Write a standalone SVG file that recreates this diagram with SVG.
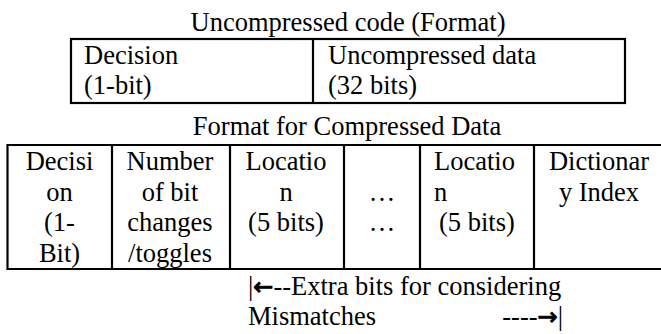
<svg xmlns="http://www.w3.org/2000/svg" width="661" height="334" viewBox="0 0 661 334">
<style>
  text { font-family: "Liberation Serif", "Times New Roman", serif; font-size: 26.5px; fill: #000; }
  .c { text-anchor: middle; }
  .e { text-anchor: end; }
  .ar { font-family: "DejaVu Sans", sans-serif; font-size: 24px; stroke: #000; stroke-width: 0.9; }
  .ln { stroke: #000; stroke-width: 2.2; fill: none; }
</style>
<rect width="661" height="334" fill="#fff"/>
<g id="uncompressed-title">
  <text class="c" x="348" y="31">Uncompressed code (Format)</text>
</g>
<g id="uncompressed-table">
  <rect class="ln" x="71" y="39" width="554" height="64"/>
  <line class="ln" x1="313" y1="39" x2="313" y2="103"/>
  <text x="84" y="64">Decision</text>
  <text x="84" y="94">(1-bit)</text>
  <text x="328" y="64">Uncompressed data</text>
  <text x="328" y="94">(32 bits)</text>
</g>
<g id="compressed-title">
  <text class="c" x="347" y="135">Format for Compressed Data</text>
</g>
<g id="compressed-table">
  <path class="ln" d="M663 145 H7.5 V269 H663"/>
  <line class="ln" x1="112" y1="145" x2="112" y2="269"/>
  <line class="ln" x1="230" y1="145" x2="230" y2="269"/>
  <line class="ln" x1="344" y1="145" x2="344" y2="269"/>
  <line class="ln" x1="420" y1="145" x2="420" y2="269"/>
  <line class="ln" x1="534" y1="145" x2="534" y2="269"/>
  <text class="c" x="59.5" y="170">Decisi</text>
  <text class="c" x="59.5" y="200.5">on</text>
  <text class="c" x="59.5" y="231">(1-</text>
  <text class="c" x="59.5" y="261.5">Bit)</text>
  <text class="c" x="170" y="170">Number</text>
  <text class="c" x="170" y="200.5">of bit</text>
  <text class="c" x="170" y="231">changes</text>
  <text class="c" x="170" y="261.5">/toggles</text>
  <text class="c" x="286" y="170">Locatio</text>
  <text class="c" x="286" y="200.5">n</text>
  <text class="c" x="286" y="231">(5 bits)</text>
  <text class="c" x="382" y="200.5">…</text>
  <text class="c" x="382" y="231">…</text>
  <text x="434" y="170">Locatio</text>
  <text x="434" y="200.5">n</text>
  <text x="439" y="231">(5 bits)</text>
  <text class="c" x="599" y="170">Dictionar</text>
  <text class="c" x="599" y="200.5">y Index</text>
</g>
<g id="mismatch-note">
  <text x="248" y="295">|<tspan class="ar">←</tspan>--Extra bits for considering</text>
  <text x="248" y="325">Mismatches</text>
  <text class="e" x="563" y="325">----<tspan class="ar">→</tspan>|</text>
</g>
</svg>
